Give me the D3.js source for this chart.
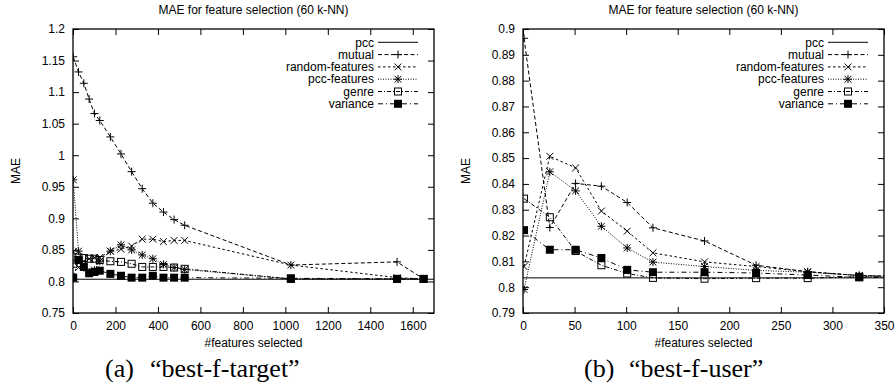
<!DOCTYPE html>
<html>
<head>
<meta charset="utf-8">
<script src="https://cdn.jsdelivr.net/npm/d3@7"></script>
<style>
  html, body { margin: 0; padding: 0; background: #fff; }
  svg { display: block; }
  text { fill: #000; }
</style>
</head>
<body>
<svg id="chart" width="896" height="390"></svg>
<script>
// ---------------- DATA ----------------
const seriesNames = ["pcc", "mutual", "random-features", "pcc-features", "genre", "variance"];
const chartTitle = "MAE for feature selection (60 k-NN)";
const xLabel = "#features selected";
const yLabel = "MAE";

// panel (a) "best-f-target"
const leftX = [1, 26, 51, 76, 101, 126, 176, 226, 276, 326, 376, 426, 476, 526, 1026, 1526, 1651];
const leftPcc = 0.8035;
const leftMutual = [1.156, 1.132, 1.114, 1.089, 1.066, 1.055, 1.029, 1.002, 0.974, 0.947, 0.924, 0.910, 0.898, 0.889, 0.826, 0.831, 0.804];
const leftRandom = [0.847, 0.822, 0.832, 0.836, 0.838, 0.838, 0.848, 0.851, 0.856, 0.867, 0.867, 0.863, 0.865, 0.865, 0.826, 0.806, 0.804];
const leftPccFeatures = [0.961, 0.848, 0.822, 0.815, 0.818, 0.832, 0.848, 0.858, 0.850, 0.842, 0.836, 0.827, 0.822, 0.819, 0.804, 0.804, 0.804];
const leftGenre = [0.828, 0.838, 0.837, 0.836, 0.836, 0.834, 0.832, 0.831, 0.828, 0.823, 0.823, 0.823, 0.822, 0.820, 0.804, 0.804, 0.804];
const leftVariance = [0.806, 0.834, 0.823, 0.813, 0.815, 0.817, 0.812, 0.809, 0.806, 0.806, 0.809, 0.806, 0.806, 0.806, 0.805, 0.804, 0.804];
const leftXTicks = [0, 200, 400, 600, 800, 1000, 1200, 1400, 1600];
const leftYTicks = [0.75, 0.8, 0.85, 0.9, 0.95, 1, 1.05, 1.1, 1.15, 1.2];
const leftXDomain = [0, 1700];
const leftYDomain = [0.75, 1.2];
const leftCaptionTag = "(a)";
const leftCaptionText = "\u201cbest-f-target\u201d";

// panel (b) "best-f-user"
const rightX = [1, 26, 51, 76, 101, 126, 176, 226, 276, 326, 376];
const rightPcc = 0.8036;
const rightMutual = [0.8964, 0.8231, 0.8402, 0.8391, 0.8328, 0.8230, 0.8179, 0.8085, 0.8060, 0.8045, 0.8040];
const rightRandom = [0.8080, 0.8507, 0.8462, 0.8295, 0.8217, 0.8133, 0.8098, 0.8080, 0.8060, 0.8045, 0.8041];
const rightPccFeatures = [0.7991, 0.8447, 0.8373, 0.8236, 0.8152, 0.8097, 0.8080, 0.8065, 0.8058, 0.8045, 0.8040];
const rightGenre = [0.8343, 0.8271, 0.8140, 0.8085, 0.8053, 0.8036, 0.8033, 0.8035, 0.8035, 0.8040, 0.8040];
const rightVariance = [0.8221, 0.8145, 0.8145, 0.8113, 0.8067, 0.8058, 0.8058, 0.8055, 0.8047, 0.8038, 0.8036];
const rightXTicks = [0, 50, 100, 150, 200, 250, 300, 350];
const rightYTicks = [0.79, 0.8, 0.81, 0.82, 0.83, 0.84, 0.85, 0.86, 0.87, 0.88, 0.89, 0.9];
const rightXDomain = [0, 350];
const rightYDomain = [0.79, 0.9];
const rightCaptionTag = "(b)";
const rightCaptionText = "\u201cbest-f-user\u201d";

// ---------------- STYLES ----------------
const dashes = {
  "pcc": null,
  "mutual": "4,2.5",
  "random-features": "2.5,2.5",
  "pcc-features": "1,1.5",
  "genre": "4,2,1,2",
  "variance": "5,3,1,3"
};
const markers = {
  "pcc": null,
  "mutual": "plus",
  "random-features": "cross",
  "pcc-features": "star",
  "genre": "square",
  "variance": "fsquare"
};

const svg = d3.select("#chart");
const FONT = "'Liberation Sans', Arial, Helvetica, sans-serif";
const SERIF = "'Liberation Serif', 'Times New Roman', serif";

function drawMarker(g, type, cx, cy) {
  const a = 4, c = 3.4;
  if (type === "plus" || type === "star") {
    g.append("line").attr("x1", cx - a).attr("x2", cx + a).attr("y1", cy).attr("y2", cy);
    g.append("line").attr("x1", cx).attr("x2", cx).attr("y1", cy - a).attr("y2", cy + a);
  }
  if (type === "cross" || type === "star") {
    g.append("line").attr("x1", cx - c).attr("x2", cx + c).attr("y1", cy - c).attr("y2", cy + c);
    g.append("line").attr("x1", cx - c).attr("x2", cx + c).attr("y1", cy + c).attr("y2", cy - c);
  }
  if (type === "square") {
    g.append("rect").attr("x", cx - 3.5).attr("y", cy - 3.5).attr("width", 7).attr("height", 7)
      .attr("fill", "none");
  }
  if (type === "fsquare") {
    g.append("rect").attr("x", cx - 4).attr("y", cy - 4).attr("width", 8).attr("height", 8)
      .attr("fill", "#000").attr("stroke", "none");
  }
}

function drawPanel(cfg) {
  const { id, x0, x1, y0, y1, xs, pcc, series, xTicks, yTicks, xDomain, yDomain, capTag, capText, capX } = cfg;
  const x = d3.scaleLinear().domain(xDomain).range([x0, x1]);
  const y = d3.scaleLinear().domain(yDomain).range([y1, y0]);
  const fmt = d3.format("~g");
  const root = svg.append("g");

  svg.append("clipPath").attr("id", "clip-" + id)
    .append("rect").attr("x", x0).attr("y", y0).attr("width", x1 - x0).attr("height", y1 - y0);

  const tl = 6;
  const axB = root.append("g").attr("transform", `translate(0,${y1})`)
    .call(d3.axisBottom(x).tickValues(xTicks).tickSize(-tl).tickPadding(8).tickFormat(fmt));
  const axT = root.append("g").attr("transform", `translate(0,${y0})`)
    .call(d3.axisTop(x).tickValues(xTicks).tickSize(-tl).tickFormat(""));
  const axL = root.append("g").attr("transform", `translate(${x0},0)`)
    .call(d3.axisLeft(y).tickValues(yTicks).tickSize(-tl).tickPadding(8).tickFormat(fmt));
  const axR = root.append("g").attr("transform", `translate(${x1},0)`)
    .call(d3.axisRight(y).tickValues(yTicks).tickSize(-tl).tickFormat(""));
  [axB, axT, axL, axR].forEach(a => {
    a.select(".domain").remove();
    a.selectAll(".tick line").attr("stroke", "#000").attr("stroke-width", 1);
    a.selectAll("text").attr("font-family", FONT).attr("font-size", 12).attr("fill", "#000");
  });

  const dataG = root.append("g").attr("clip-path", `url(#clip-${id})`)
    .attr("stroke", "#000").attr("stroke-width", 1).attr("fill", "none");
  dataG.append("line").attr("x1", x(xDomain[0])).attr("x2", x(xDomain[1]))
    .attr("y1", y(pcc)).attr("y2", y(pcc));

  const line = d3.line().x(d => x(d[0])).y(d => y(d[1]));
  series.forEach(s => {
    const pts = xs.map((xv, i) => [xv, s.values[i]]);
    dataG.append("path").attr("d", line(pts)).attr("stroke-dasharray", dashes[s.name]);
  });
  series.forEach(s => {
    const mg = dataG.append("g");
    xs.forEach((xv, i) => drawMarker(mg, markers[s.name], x(xv), y(s.values[i])));
  });

  root.append("rect").attr("x", x0).attr("y", y0).attr("width", x1 - x0).attr("height", y1 - y0)
    .attr("fill", "none").attr("stroke", "#000").attr("stroke-width", 1.3);

  // legend
  const lx = x1 - 60, rowH = 12.3, ly = y0 + 13.3;
  const lg = root.append("g");
  seriesNames.forEach((name, i) => {
    const yy = ly + i * rowH;
    lg.append("text").attr("x", lx).attr("y", yy).attr("dy", "0.35em").attr("text-anchor", "end")
      .attr("font-family", FONT).attr("font-size", 12).text(name);
    lg.append("line").attr("x1", lx + 4).attr("x2", lx + 44).attr("y1", yy).attr("y2", yy)
      .attr("stroke", "#000").attr("stroke-width", 1).attr("stroke-dasharray", dashes[name]);
    const mg = lg.append("g").attr("stroke", "#000").attr("stroke-width", 1).attr("fill", "none");
    if (markers[name]) drawMarker(mg, markers[name], lx + 24, yy);
  });

  const cx = (x0 + x1) / 2;
  root.append("text").attr("x", cx).attr("y", 14).attr("text-anchor", "middle")
    .attr("font-family", FONT).attr("font-size", 12).text(chartTitle);
  root.append("text").attr("x", cx).attr("y", 347).attr("text-anchor", "middle")
    .attr("font-family", FONT).attr("font-size", 12).text(xLabel);
  root.append("text").attr("transform", `translate(${x0 - 57},${(y0 + y1) / 2}) rotate(-90)`)
    .attr("text-anchor", "middle").attr("dy", "0.35em")
    .attr("font-family", FONT).attr("font-size", 12).text(yLabel);
  root.append("text").attr("x", capX).attr("y", 377)
    .attr("font-family", SERIF).attr("font-size", 26).text(capTag);
  root.append("text").attr("x", capX + 45).attr("y", 377)
    .attr("font-family", SERIF).attr("font-size", 26).text(capText);
}

drawPanel({
  id: "a", x0: 73, x1: 434, y0: 29, y1: 313,
  xs: leftX, pcc: leftPcc,
  series: [
    { name: "mutual", values: leftMutual },
    { name: "random-features", values: leftRandom },
    { name: "pcc-features", values: leftPccFeatures },
    { name: "genre", values: leftGenre },
    { name: "variance", values: leftVariance }
  ],
  xTicks: leftXTicks, yTicks: leftYTicks, xDomain: leftXDomain, yDomain: leftYDomain,
  capTag: leftCaptionTag, capText: leftCaptionText, capX: 105
});

drawPanel({
  id: "b", x0: 523, x1: 884, y0: 29, y1: 313,
  xs: rightX, pcc: rightPcc,
  series: [
    { name: "mutual", values: rightMutual },
    { name: "random-features", values: rightRandom },
    { name: "pcc-features", values: rightPccFeatures },
    { name: "genre", values: rightGenre },
    { name: "variance", values: rightVariance }
  ],
  xTicks: rightXTicks, yTicks: rightYTicks, xDomain: rightXDomain, yDomain: rightYDomain,
  capTag: rightCaptionTag, capText: rightCaptionText, capX: 584
});
</script>
</body>
</html>
